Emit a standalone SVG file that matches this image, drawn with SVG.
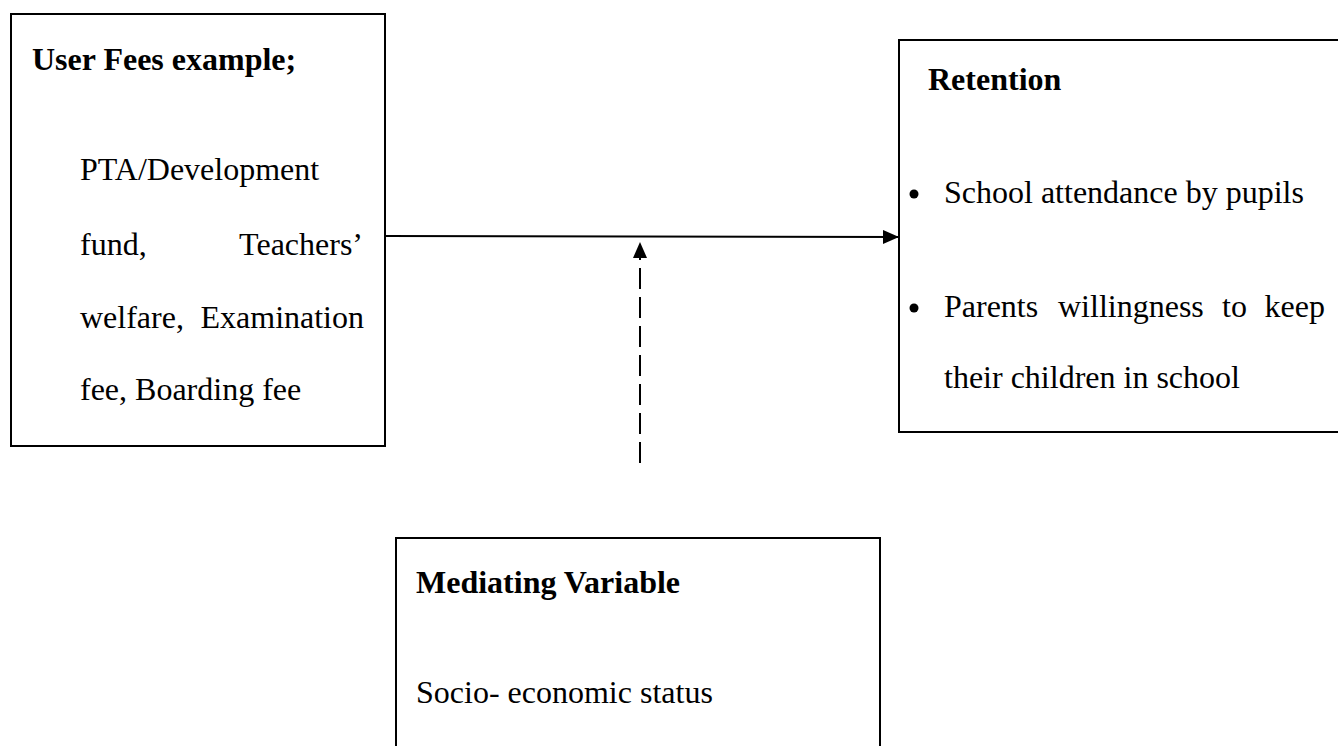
<svg xmlns="http://www.w3.org/2000/svg" width="1338" height="746" viewBox="0 0 1338 746">
<style>
.box{fill:none;stroke:#000;stroke-width:2}
.t{font-family:"Liberation Serif","Times New Roman",serif;font-size:32px;fill:#000}
.b{font-weight:bold}
.ln{stroke:#000;stroke-width:2;fill:none}
</style>
<defs>
<marker id="ah" viewBox="0 0 16 14" refX="16" refY="7" markerWidth="16" markerHeight="14" markerUnits="userSpaceOnUse" orient="auto">
<path d="M0,0 L16,7 L0,14 Z" fill="#000"/>
</marker>
</defs>
<rect width="1338" height="746" fill="#fff"/>
<g id="user-fees">
<rect class="box" x="11" y="14" width="374" height="432"/>
<text class="t b" x="32" y="70">User Fees example;</text>
<text class="t" x="80" y="180">PTA/Development</text>
<text class="t" x="80" y="255">fund,</text>
<text class="t" x="363" y="255" text-anchor="end">Teachers’</text>
<text class="t" x="80" y="328">welfare,</text>
<text class="t" x="364" y="328" text-anchor="end">Examination</text>
<text class="t" x="80" y="400">fee, Boarding fee</text>
</g>
<g id="retention">
<rect class="box" x="899" y="40" width="445" height="392" stroke-width="1.6"/>
<text class="t b" x="928" y="90">Retention</text>
<circle cx="914" cy="194" r="4.5" fill="#000"/>
<text class="t" x="944" y="203">School attendance by pupils</text>
<circle cx="914" cy="308" r="4.5" fill="#000"/>
<text class="t" x="944" y="317">Parents</text>
<text class="t" x="1058" y="317">willingness</text>
<text class="t" x="1222" y="317">to</text>
<text class="t" x="1325" y="317" text-anchor="end">keep</text>
<text class="t" x="944" y="388">their children in school</text>
</g>
<g id="mediating">
<path class="box" d="M396,750 L396,538 L880,538 L880,750"/>
<text class="t b" x="416" y="593">Mediating Variable</text>
<text class="t" x="416" y="703">Socio- economic status</text>
</g>
<g id="connectors">
<line class="ln" x1="385" y1="236" x2="899" y2="237" marker-end="url(#ah)"/>
<line class="ln" x1="640" y1="463" x2="640" y2="258" stroke-dasharray="21 8"/>
<path d="M640,242 L647,258 L633,258 Z" fill="#000"/>
</g>
</svg>
